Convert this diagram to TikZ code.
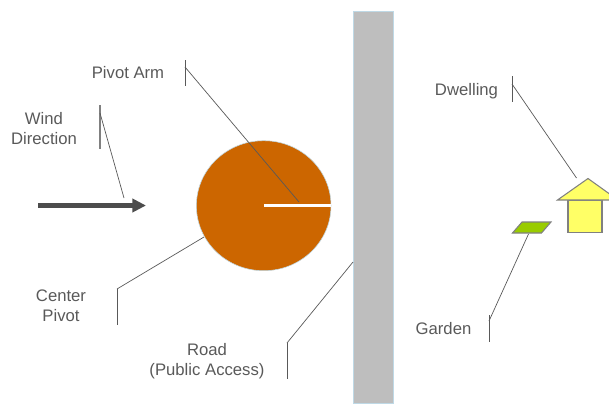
\documentclass[tikz,border=0pt]{standalone}
\usepackage{fontspec}
\setmainfont{Liberation Sans}
\usepackage{tikz}
\usetikzlibrary{arrows.meta,calc}

\definecolor{pivotorange}{HTML}{CC6600}
\definecolor{roadgray}{HTML}{BEBEBE}
\definecolor{edgeblue}{HTML}{BFD9E6}
\definecolor{leadgray}{HTML}{595959}
\definecolor{houseyellow}{HTML}{FFFF66}
\definecolor{gardengreen}{HTML}{99CC00}

\tikzset{
  lbl/.style={text=leadgray,font=\fontsize{9.5}{11.5}\selectfont,align=center,inner sep=0pt},
  lead/.style={draw=leadgray,line width=0.4pt},
  bldg/.style={draw=gray,line width=0.6pt,line join=miter}
}

\begin{document}
\begin{tikzpicture}[x=0.02cm,y=-0.02cm]
\useasboundingbox (0,0) rectangle (609,403);

% Road
\fill[roadgray,draw=edgeblue,line width=0.4pt] (353.5,11)--(393,11)--(393,403)--(353.5,403)--cycle;

% Center pivot and arm
\fill[pivotorange,draw=edgeblue,line width=0.3pt] (263.7,205.7) ellipse (67.3 and 65);
\fill[white] (263.5,203.8) rectangle (331.2,207.3);

% Wind arrow
\coordinate (windtail) at (38,205.5);
\coordinate (windhead) at (146,205.5);
\draw[-{Triangle[length=7.7pt,width=7.4pt]},line width=2.3pt,color=black!70] (windtail)--(windhead);

% Dwelling
\draw[bldg,fill=houseyellow] (568,200.5) rectangle (602,232.5);
\draw[bldg,fill=houseyellow] (557.5,200)--(588,178.5)--(618,200)--cycle;

% Garden
\draw[bldg,fill=gardengreen] (512.5,233)--(522,222)--(551,222)--(541.5,233)--cycle;

% Labels
\node[lbl] (armlabel) at (128,73){Pivot Arm};
\node[lbl] (windlabel) at (44,128.5){Wind\\Direction};
\node[lbl] (pivotlabel) at (61,306){Center\\Pivot};
\node[lbl] (roadlabel) at (207,361.5){Road\\(Public Access)};
\node[lbl] (homelabel) at (466.5,91.5){Dwelling};
\node[lbl] (gardenlabel) at (443.5,329){Garden};

% Leaders
\coordinate (armtop) at (185,60);
\coordinate (armbot) at (185,86);
\coordinate (armknee) at (185,67);
\coordinate (armend) at (299,202);
\draw[lead] (armtop)--(armbot);
\draw[lead] (armknee)--(armend);

\coordinate (windtop) at (100,105);
\coordinate (windbot) at (100,149);
\coordinate (windknee) at (100,113);
\coordinate (windend) at (124,198);
\draw[lead,draw=gray,line width=0.6pt] (windtop)--(windbot);
\draw[lead] (windknee)--(windend);

\coordinate (pivottop) at (117,289);
\coordinate (pivotbot) at (117,325);
\coordinate (pivotend) at (204,237);
\draw[lead] (pivottop)--(pivotbot);
\draw[lead] (pivottop)--(pivotend);

\coordinate (roadtop) at (287,343);
\coordinate (roadbot) at (287,379);
\coordinate (roadend) at (353,262);
\draw[lead] (roadtop)--(roadbot);
\draw[lead] (roadtop)--(roadend);

\coordinate (hometop) at (512,76);
\coordinate (homebot) at (512,102);
\coordinate (homeknee) at (512,84);
\coordinate (homeend) at (576.5,178);
\draw[lead] (hometop)--(homebot);
\draw[lead] (homeknee)--(homeend);

\coordinate (gardentop) at (489,315);
\coordinate (gardenbot) at (489,342);
\coordinate (gardenknee) at (489,321);
\coordinate (gardenend) at (528.5,234);
\draw[lead] (gardentop)--(gardenbot);
\draw[lead] (gardenknee)--(gardenend);

\end{tikzpicture}
\end{document}
